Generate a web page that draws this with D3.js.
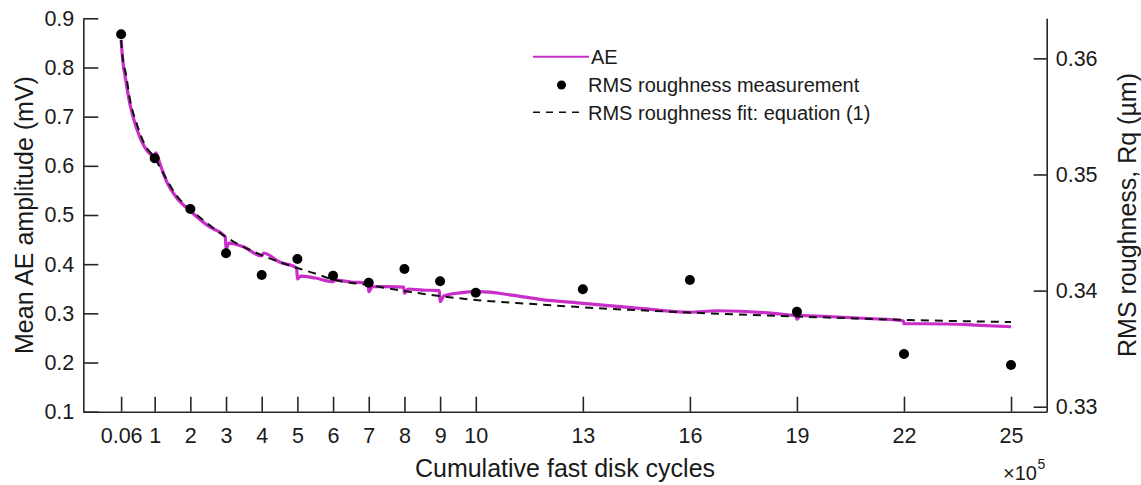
<!DOCTYPE html>
<html>
<head>
<meta charset="utf-8">
<script src="https://cdn.jsdelivr.net/npm/d3@7"></script>
<style>
  body { margin: 0; background: #fff; }
  text { font-family: "Liberation Sans", Arial, sans-serif; fill: #1a1a1a; }
</style>
</head>
<body>
<svg id="container" width="1141" height="485"></svg>
<script>
// cycles (x10^5) where roughness was measured
const measCycles = [0.06, 1, 2, 3, 4, 5, 6, 7, 8, 9, 10, 13, 16, 19, 22, 25]
const measRq = [0.36207, 0.35139, 0.34702, 0.34321, 0.34134, 0.34272, 0.34128, 0.34068,
  0.34186, 0.3408, 0.33982, 0.34011, 0.34091, 0.33818, 0.33454, 0.33359]

// equation (1) fit
const fitCycles = [0.06, 0.1, 0.2, 0.3, 0.5, 0.7, 1, 1.33, 1.6, 2, 2.5, 3, 3.5, 4, 4.5, 5, 5.5, 6,
  7, 8, 9, 10, 11.6, 13, 16, 19, 22, 25]
const fitRq = [0.36158, 0.36012, 0.35857, 0.35659, 0.35435, 0.35271, 0.35142, 0.34961, 0.34823,
  0.34702, 0.34573, 0.34461, 0.34375, 0.34306, 0.34246, 0.34194, 0.34147, 0.34095, 0.34048,
  0.33996, 0.33953, 0.33919, 0.33884, 0.33856, 0.33811, 0.33777, 0.33748, 0.33729]

// mean AE amplitude (mV)
const aeCycles = [0.06, 0.1, 0.2, 0.3, 0.5, 0.7, 0.9, 1.0, 1.03, 1.15, 1.33, 1.6, 2, 2.5, 2.98,
  3.0, 3.08, 3.5, 4.0, 4.05, 4.5, 4.98, 5.0, 5.1, 5.5, 6.0, 6.05, 6.5, 6.98, 7.0, 7.1, 7.5, 7.98,
  8.0, 8.1, 8.5, 8.98, 9.0, 9.1, 9.5, 10.1, 11, 11.8, 13, 14.6, 16, 16.75, 18.8, 18.98, 19.0,
  19.1, 20, 21, 21.98, 22.0, 23.2, 24, 25]
const aeAmp = [0.8559, 0.8193, 0.77, 0.7277, 0.6749, 0.6403, 0.622, 0.6179, 0.6265, 0.6037,
  0.5691, 0.5366, 0.5081, 0.4776, 0.4552, 0.4308, 0.443, 0.4349, 0.4166, 0.4227, 0.4044, 0.3922,
  0.3698, 0.3759, 0.3718, 0.3643, 0.3678, 0.3637, 0.3617, 0.344, 0.3541, 0.3545, 0.3535, 0.3407,
  0.3495, 0.3474, 0.3464, 0.3236, 0.3352, 0.3413, 0.344, 0.3372, 0.3285, 0.3204, 0.3102, 0.3021,
  0.3053, 0.2966, 0.2945, 0.2878, 0.2956, 0.2931, 0.2895, 0.285, 0.2793, 0.2783, 0.2762, 0.2728]

const xTicks = [0.06, 1, 2, 3, 4, 5, 6, 7, 8, 9, 10, 13, 16, 19, 22, 25]
const leftTicks = [0.1, 0.2, 0.3, 0.4, 0.5, 0.6, 0.7, 0.8, 0.9]
const rightTicks = [0.33, 0.34, 0.35, 0.36]

const svg = d3.select('#container')
const magenta = '#c92ec9'
const ink = '#262626'

const xScale = d3.scaleLinear().domain([-1, 26]).range([83.3, 1046.7])
const yLeft = d3.scaleLinear().domain([0.1, 0.9]).range([411.7, 18.3])
const yRight = d3.scaleLinear().domain([0.32957, 0.36345]).range([411.7, 18.3])

// AE trace
const aeLine = d3.line()
  .curve(d3.curveMonotoneX)
  .x((d, i) => xScale(aeCycles[i]))
  .y((d) => yLeft(d))
svg.append('path')
  .datum(aeAmp)
  .attr('d', aeLine)
  .attr('fill', 'none')
  .attr('stroke', magenta)
  .attr('stroke-width', 3.2)
  .attr('stroke-linejoin', 'round')

// fit
const fitLine = d3.line()
  .curve(d3.curveMonotoneX)
  .x((d, i) => xScale(fitCycles[i]))
  .y((d) => yRight(d))
svg.append('path')
  .datum(fitRq)
  .attr('d', fitLine)
  .attr('fill', 'none')
  .attr('stroke', '#111')
  .attr('stroke-width', 2)
  .attr('stroke-dasharray', '8,6')

// measurements
svg.selectAll('circle.meas')
  .data(measRq)
  .enter()
  .append('circle')
  .attr('class', 'meas')
  .attr('cx', (d, i) => xScale(measCycles[i]))
  .attr('cy', (d) => yRight(d))
  .attr('r', 5)
  .attr('fill', '#000')

// axes
const styleAxis = (g) => {
  g.select('.domain').attr('stroke', ink).attr('stroke-width', 1.6)
  g.selectAll('.tick line').attr('stroke', ink).attr('stroke-width', 1.6)
  g.selectAll('.tick text').attr('fill', '#1a1a1a').style('font-size', '21.5px')
    .style('font-family', '"Liberation Sans", Arial, sans-serif')
}

const xAxis = d3.axisBottom(xScale)
  .tickValues(xTicks)
  .tickFormat((d) => (d === 0.06 ? '0.06' : d3.format('d')(d)))
  .tickSizeInner(-15)
  .tickSizeOuter(0)
  .tickPadding(16)
svg.append('g')
  .attr('transform', 'translate(0,411.7)')
  .call(xAxis)
  .call(styleAxis)

const leftAxis = d3.axisLeft(yLeft)
  .tickValues(leftTicks)
  .tickFormat(d3.format('.1f'))
  .tickSizeInner(-15)
  .tickSizeOuter(0)
  .tickPadding(9)
svg.append('g')
  .attr('transform', 'translate(83.3,0)')
  .call(leftAxis)
  .call(styleAxis)

const rightAxis = d3.axisRight(yRight)
  .tickValues(rightTicks)
  .tickFormat(d3.format('.2f'))
  .tickSizeInner(-13)
  .tickSizeOuter(0)
  .tickPadding(9)
svg.append('g')
  .attr('transform', 'translate(1046.7,0)')
  .call(rightAxis)
  .call(styleAxis)

// labels
svg.append('text')
  .attr('x', 565)
  .attr('y', 476.5)
  .attr('text-anchor', 'middle')
  .style('font-size', '25px')
  .text('Cumulative fast disk cycles')

svg.append('text')
  .attr('transform', 'translate(33,215) rotate(-90)')
  .attr('text-anchor', 'middle')
  .style('font-size', '25px')
  .text('Mean AE amplitude (mV)')

svg.append('text')
  .attr('transform', 'translate(1136,215) rotate(-90)')
  .attr('text-anchor', 'middle')
  .style('font-size', '25px')
  .text('RMS roughness, Rq (µm)')

svg.append('text')
  .attr('x', 1037)
  .attr('y', 480)
  .attr('text-anchor', 'end')
  .style('font-size', '20px')
  .text('×10')
svg.append('text')
  .attr('x', 1037.5)
  .attr('y', 469)
  .style('font-size', '14px')
  .text('5')

// legend
const legend = svg.append('g')
legend.append('line')
  .attr('x1', 533).attr('x2', 589)
  .attr('y1', 56.7).attr('y2', 56.7)
  .attr('stroke', magenta)
  .attr('stroke-width', 2)
legend.append('circle')
  .attr('cx', 561.5).attr('cy', 85)
  .attr('r', 4.5)
  .attr('fill', '#000')
legend.append('line')
  .attr('x1', 533).attr('x2', 584)
  .attr('y1', 112.3).attr('y2', 112.3)
  .attr('stroke', '#111')
  .attr('stroke-width', 1.6)
  .attr('stroke-dasharray', '7,6')

const legendText = ['AE', 'RMS roughness measurement', 'RMS roughness fit: equation (1)']
legend.selectAll('text')
  .data(legendText)
  .enter()
  .append('text')
  .attr('x', (d, i) => (i === 0 ? 591 : 588))
  .attr('y', (d, i) => 56.7 + i * 27.8)
  .attr('dy', '0.36em')
  .style('font-size', '20px')
  .text((d) => d)
</script>
</body>
</html>
